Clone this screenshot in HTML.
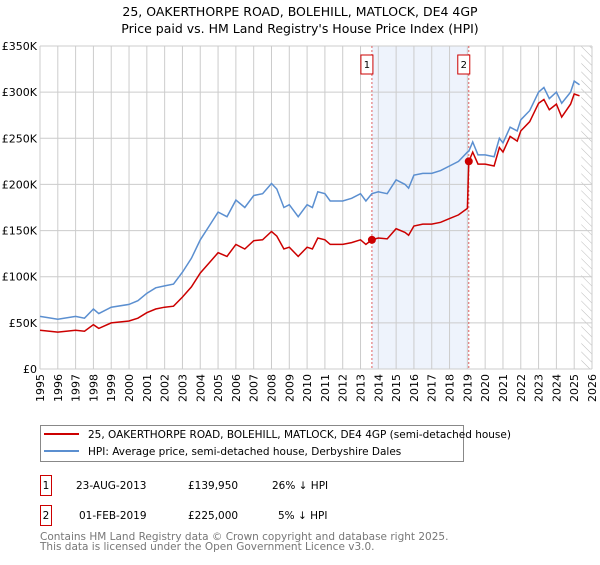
<!DOCTYPE html>
<html><head><meta charset="utf-8"><style>
body{margin:0;background:#fff;font-family:"Liberation Sans","DejaVu Sans",sans-serif;}
svg text{font-family:"DejaVu Sans","Liberation Sans",sans-serif;}
</style></head><body>
<svg id="c" width="600" height="560" viewBox="0 0 600 560">
<defs><pattern id="hatch" width="6" height="6" patternUnits="userSpaceOnUse" patternTransform="rotate(-45)"><line x1="0" y1="0" x2="0" y2="6" stroke="#bbb" stroke-width="1"/></pattern></defs>
<text x="300" y="16" text-anchor="middle" font-size="12.5" fill="#000">25, OAKERTHORPE ROAD, BOLEHILL, MATLOCK, DE4 4GP</text>
<text x="300" y="33" text-anchor="middle" font-size="12.5" fill="#000">Price paid vs. HM Land Registry's House Price Index (HPI)</text>
<g id="plot"></g>
<rect x="40.5" y="425.5" width="423" height="36" fill="#fff" stroke="#888"/>
<line x1="44" y1="434" x2="79" y2="434" stroke="#cc0000" stroke-width="2"/>
<text x="88" y="438" font-size="10.5">25, OAKERTHORPE ROAD, BOLEHILL, MATLOCK, DE4 4GP (semi-detached house)</text>
<line x1="44" y1="451" x2="79" y2="451" stroke="#5b8fd0" stroke-width="2"/>
<text x="88" y="455" font-size="10.5">HPI: Average price, semi-detached house, Derbyshire Dales</text>
<g font-size="10.5">
<rect x="40.5" y="475.5" width="11" height="20" fill="none" stroke="#cc0000"/>
<text x="46" y="489" text-anchor="middle">1</text>
<text x="76" y="489">23-AUG-2013</text>
<text x="188" y="489">£139,950</text>
<text x="272" y="489">26% ↓ HPI</text>
<rect x="40.5" y="505.5" width="11" height="20" fill="none" stroke="#cc0000"/>
<text x="46" y="519" text-anchor="middle">2</text>
<text x="79" y="519">01-FEB-2019</text>
<text x="188" y="519">£225,000</text>
<text x="278" y="519">5% ↓ HPI</text>
</g>
<text x="40" y="540" font-size="10.5" fill="#777">Contains HM Land Registry data © Crown copyright and database right 2025.</text>
<text x="40" y="550" font-size="10.5" fill="#777">This data is licensed under the Open Government Licence v3.0.</text>
</svg>
<script>
const years=[1995,1996,1997,1997.5,1998,1998.3,1999,2000,2000.5,2001,2001.5,2002,2002.5,2003,2003.5,2004,2004.5,2005,2005.5,2006,2006.5,2007,2007.5,2008,2008.3,2008.7,2009,2009.5,2010,2010.3,2010.6,2011,2011.3,2012,2012.5,2013,2013.3,2013.64,2014,2014.5,2015,2015.5,2015.7,2016,2016.5,2017,2017.5,2018,2018.5,2019.0,2019.08,2019.3,2019.6,2020,2020.5,2020.8,2021,2021.4,2021.8,2022,2022.5,2023,2023.3,2023.6,2024,2024.3,2024.8,2025,2025.3];
const hpi=[57,54,57,55,65,60,67,70,74,82,88,90,92,105,120,140,155,170,165,183,175,188,190,201,195,175,178,165,178,175,192,190,182,182,185,190,182,190,192,190,205,200,196,210,212,212,215,220,225,235,236,246,232,232,230,250,245,262,258,270,280,300,305,293,300,288,300,312,308];
const prop=[42,40,42,41,48,44,50,52,55,61,65,67,68,78,89,104,115,126,122,135,130,139,140,149,144,130,132,122,132,130,142,140,135,135,137,140,135,140,142,141,152,148,145,155,157,157,159,163,167,174,225,235,222,222,220,240,235,252,247,258,268,288,292,281,287,273,287,298,296];
const saleYears=[2013.64,2019.08];
const salePrices=[139.95,225];
const yTicks=[0,50,100,150,200,250,300,350];
const xTicks=[1995,1996,1997,1998,1999,2000,2001,2002,2003,2004,2005,2006,2007,2008,2009,2010,2011,2012,2013,2014,2015,2016,2017,2018,2019,2020,2021,2022,2023,2024,2025,2026];
const X0=40,X1=592,Y0=369,Y1=46;
const xs=y=>X0+(y-1995)/(2026-1995)*(X1-X0);
const ys=v=>Y0-v/350*(Y0-Y1);
const NS='http://www.w3.org/2000/svg';
const g=document.getElementById('plot');
function mk(t,a){const e=document.createElementNS(NS,t);for(const k in a)e.setAttribute(k,a[k]);g.appendChild(e);return e;}
let e;
e=mk('rect',{x:xs(saleYears[0]),y:Y1,width:xs(saleYears[1])-xs(saleYears[0]),height:Y0-Y1,fill:'#eef3fc'});


e=mk('rect',{x:xs(2025.4),y:Y1,width:X1-xs(2025.4),height:Y0-Y1,fill:'url(#hatch)'});


xTicks.forEach(t=>{
 e=mk('line',{x1:xs(t),x2:xs(t),y1:Y1,y2:Y0,stroke:'#ccc','stroke-width':1});
 
 
 e=mk('text',{x:0,y:0,'font-size':11,'text-anchor':'end',transform:`translate(${xs(t)+4},${Y0+5}) rotate(-90)`});
 e.textContent=t;
 
 
});
yTicks.forEach(t=>{
 e=mk('line',{x1:X0,x2:X1,y1:ys(t),y2:ys(t),stroke:'#ccc','stroke-width':1});
 
 
 e=mk('text',{x:X0-3,y:ys(t)+4,'font-size':11,'text-anchor':'end'});
 e.textContent=t===0?'£0':'£'+t+'K';
 
 
});
saleYears.forEach((s,i)=>{
 e=mk('line',{x1:xs(s),x2:xs(s),y1:Y1,y2:Y0,stroke:'#e06060','stroke-width':1,'stroke-dasharray':'2,2'});
 
 
 e=mk('rect',{x:xs(s)-11,y:55,width:12,height:19,fill:'#fff',stroke:'#cc0000'});
 
 
 e=mk('text',{x:xs(s)-5,y:68,'font-size':10,'text-anchor':'middle'});
 e.textContent=i+1;
 
 
});
function path(arr){return arr.map((v,i)=>(i?'L':'M')+xs(years[i]).toFixed(1)+','+ys(v).toFixed(1)).join('');}
e=mk('path',{d:path(hpi),fill:'none',stroke:'#5b8fd0','stroke-width':1.5});


e=mk('path',{d:path(prop),fill:'none',stroke:'#cc0000','stroke-width':1.5});


saleYears.forEach((s,i)=>{
 e=mk('circle',{cx:xs(s),cy:ys(salePrices[i]),r:4,fill:'#cc0000'});
 
 
});
</script>
</body></html>
